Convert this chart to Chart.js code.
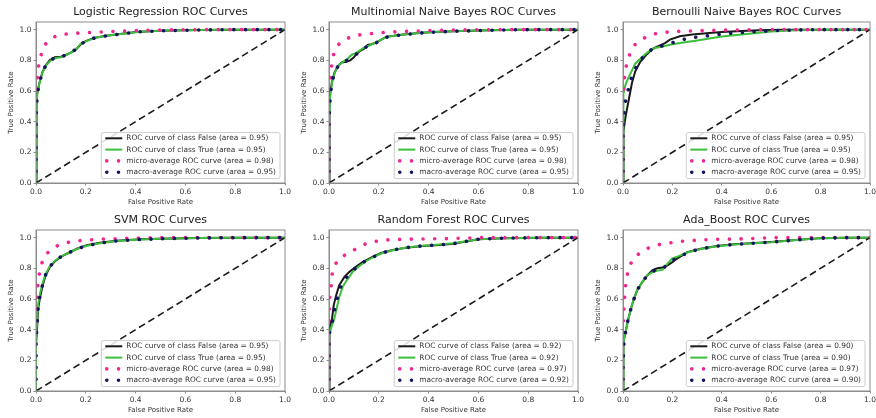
<!DOCTYPE html>
<html>
<head>
<meta charset="utf-8">
<script src="https://cdn.jsdelivr.net/npm/chart.js@4/dist/chart.umd.min.js"></script>
<style>
  html, body { margin: 0; padding: 0; background: #ffffff; }
  #board { position: relative; width: 876px; height: 418px; overflow: hidden; }
  #board canvas { position: absolute; }
</style>
</head>
<body>
<div id="board"></div>
<script>
// ROC curves per model, points are [false positive rate, true positive rate]
const modelTitles = [
  "Logistic Regression ROC Curves",
  "Multinomial Naive Bayes ROC Curves",
  "Bernoulli Naive Bayes ROC Curves",
  "SVM ROC Curves",
  "Random Forest ROC Curves",
  "Ada_Boost ROC Curves"
];

const areaFalse = [0.95, 0.95, 0.95, 0.95, 0.92, 0.90];
const areaTrue = [0.95, 0.95, 0.95, 0.95, 0.92, 0.90];
const areaMicro = [0.98, 0.98, 0.98, 0.98, 0.97, 0.97];
const areaMacro = [0.95, 0.95, 0.95, 0.95, 0.92, 0.90];

const tickValues = [0, 0.2, 0.4, 0.6, 0.8, 1.0];
const chanceLine = [[0, 0], [1, 1]];

const lrFalse = [[0,0],[0,0.42],[0.004,0.56],[0.012,0.64],[0.025,0.72],[0.04,0.77],[0.055,0.8],[0.075,0.82],[0.1,0.823],[0.12,0.835],[0.14,0.85],[0.16,0.87],[0.18,0.905],[0.2,0.925],[0.23,0.945],[0.27,0.957],[0.33,0.97],[0.4,0.985],[0.5,0.993],[0.6,0.997],[0.75,1],[1,1]];
const lrTrue = [[0,0],[0,0.45],[0.005,0.58],[0.013,0.65],[0.026,0.72],[0.042,0.77],[0.06,0.8],[0.08,0.815],[0.1,0.82],[0.125,0.838],[0.145,0.855],[0.165,0.88],[0.18,0.91],[0.21,0.93],[0.24,0.947],[0.28,0.96],[0.34,0.972],[0.42,0.987],[0.52,0.994],[0.65,0.998],[0.8,1],[1,1]];
const lrMicro = [[0,0],[0,0.5],[0.003,0.64],[0.009,0.75],[0.016,0.81],[0.027,0.87],[0.04,0.91],[0.059,0.94],[0.083,0.96],[0.11,0.97],[0.15,0.976],[0.2,0.98],[0.3,0.988],[0.4,0.994],[0.5,0.998],[0.65,1],[1,1]];
const lrMacro = [[0,0],[0,0.43],[0.005,0.57],[0.012,0.645],[0.025,0.72],[0.04,0.77],[0.057,0.8],[0.078,0.818],[0.1,0.822],[0.122,0.836],[0.142,0.852],[0.162,0.875],[0.18,0.907],[0.205,0.928],[0.235,0.946],[0.275,0.958],[0.335,0.971],[0.41,0.986],[0.51,0.993],[0.62,0.997],[0.78,1],[1,1]];

const mnbFalse = [[0,0],[0,0.4],[0.004,0.56],[0.012,0.66],[0.022,0.72],[0.035,0.76],[0.05,0.785],[0.07,0.79],[0.085,0.8],[0.1,0.82],[0.11,0.84],[0.125,0.862],[0.14,0.875],[0.155,0.9],[0.17,0.905],[0.19,0.915],[0.21,0.935],[0.23,0.953],[0.28,0.965],[0.35,0.977],[0.42,0.985],[0.5,0.99],[0.6,0.995],[0.75,1],[1,1]];
const mnbTrue = [[0,0],[0,0.42],[0.005,0.57],[0.013,0.66],[0.024,0.72],[0.037,0.765],[0.055,0.79],[0.075,0.81],[0.09,0.835],[0.105,0.845],[0.12,0.86],[0.14,0.882],[0.16,0.895],[0.18,0.91],[0.2,0.925],[0.215,0.94],[0.24,0.955],[0.29,0.966],[0.36,0.978],[0.44,0.986],[0.52,0.991],[0.63,0.996],[0.78,1],[1,1]];
const mnbMicro = [[0,0],[0,0.5],[0.002,0.57],[0.007,0.72],[0.014,0.81],[0.024,0.87],[0.042,0.91],[0.07,0.94],[0.1,0.96],[0.14,0.97],[0.19,0.978],[0.25,0.985],[0.33,0.99],[0.42,0.995],[0.52,0.998],[0.65,1],[1,1]];
const mnbMacro = [[0,0],[0,0.41],[0.005,0.565],[0.012,0.66],[0.023,0.72],[0.036,0.762],[0.052,0.787],[0.072,0.8],[0.088,0.818],[0.103,0.832],[0.118,0.85],[0.135,0.87],[0.15,0.888],[0.17,0.905],[0.19,0.915],[0.21,0.935],[0.235,0.953],[0.285,0.965],[0.355,0.977],[0.43,0.985],[0.51,0.99],[0.62,0.995],[0.77,1],[1,1]];

const bnbFalse = [[0,0],[0,0.21],[0.004,0.34],[0.01,0.43],[0.023,0.54],[0.036,0.65],[0.05,0.73],[0.07,0.79],[0.097,0.84],[0.12,0.875],[0.138,0.89],[0.17,0.912],[0.19,0.935],[0.23,0.957],[0.28,0.968],[0.35,0.978],[0.4,0.985],[0.48,0.992],[0.55,0.997],[0.65,1],[1,1]];
const bnbTrue = [[0,0],[0,0.5],[0.003,0.58],[0.01,0.64],[0.02,0.68],[0.035,0.73],[0.05,0.78],[0.07,0.81],[0.09,0.84],[0.11,0.865],[0.13,0.88],[0.16,0.89],[0.2,0.905],[0.25,0.918],[0.3,0.93],[0.35,0.942],[0.4,0.955],[0.5,0.972],[0.6,0.988],[0.7,0.997],[0.8,1],[1,1]];
const bnbMicro = [[0,0],[0,0.55],[0.003,0.64],[0.009,0.73],[0.018,0.8],[0.03,0.85],[0.047,0.9],[0.07,0.93],[0.097,0.955],[0.127,0.972],[0.16,0.982],[0.21,0.988],[0.3,0.993],[0.42,0.997],[0.55,1],[1,1]];
const bnbMacro = [[0,0],[0,0.35],[0.004,0.45],[0.01,0.53],[0.02,0.6],[0.033,0.68],[0.05,0.745],[0.07,0.8],[0.093,0.84],[0.115,0.87],[0.138,0.885],[0.17,0.9],[0.2,0.915],[0.24,0.935],[0.29,0.95],[0.35,0.962],[0.4,0.972],[0.5,0.984],[0.6,0.993],[0.7,0.998],[0.8,1],[1,1]];

const svmFalse = [[0,0],[0,0.3],[0.005,0.43],[0.009,0.54],[0.016,0.61],[0.027,0.69],[0.039,0.755],[0.056,0.81],[0.076,0.846],[0.103,0.878],[0.13,0.9],[0.164,0.928],[0.204,0.95],[0.257,0.967],[0.324,0.98],[0.418,0.989],[0.5,0.993],[0.65,0.998],[0.8,1],[1,1]];
const svmTrue = [[0,0],[0,0.35],[0.005,0.47],[0.009,0.57],[0.016,0.635],[0.027,0.705],[0.039,0.765],[0.056,0.815],[0.076,0.85],[0.103,0.88],[0.13,0.9],[0.164,0.926],[0.204,0.947],[0.257,0.964],[0.324,0.978],[0.418,0.988],[0.5,0.993],[0.65,0.998],[0.8,1],[1,1]];
const svmMicro = [[0,0],[0,0.45],[0.003,0.54],[0.005,0.65],[0.009,0.72],[0.016,0.79],[0.025,0.84],[0.039,0.885],[0.056,0.918],[0.076,0.94],[0.1,0.957],[0.123,0.967],[0.157,0.978],[0.19,0.982],[0.25,0.99],[0.35,0.995],[0.5,1],[1,1]];
const svmMacro = [[0,0],[0,0.32],[0.005,0.45],[0.009,0.555],[0.016,0.62],[0.027,0.697],[0.039,0.76],[0.056,0.812],[0.076,0.848],[0.103,0.879],[0.13,0.9],[0.164,0.927],[0.204,0.948],[0.257,0.965],[0.324,0.979],[0.418,0.988],[0.5,0.993],[0.65,0.998],[0.8,1],[1,1]];

const rfFalse = [[0,0],[0,0.36],[0.004,0.41],[0.012,0.47],[0.019,0.56],[0.028,0.62],[0.041,0.69],[0.062,0.744],[0.082,0.777],[0.108,0.81],[0.135,0.84],[0.169,0.87],[0.209,0.9],[0.256,0.92],[0.31,0.934],[0.376,0.946],[0.443,0.952],[0.5,0.96],[0.55,0.975],[0.6,0.99],[0.7,0.997],[0.85,1],[1,1]];
const rfTrue = [[0,0],[0,0.36],[0.008,0.41],[0.021,0.47],[0.031,0.54],[0.041,0.61],[0.055,0.68],[0.075,0.73],[0.095,0.777],[0.122,0.815],[0.15,0.848],[0.18,0.875],[0.215,0.9],[0.26,0.92],[0.31,0.936],[0.376,0.948],[0.443,0.955],[0.5,0.963],[0.55,0.977],[0.6,0.99],[0.7,0.997],[0.85,1],[1,1]];
const rfMicro = [[0,0],[0,0.45],[0.002,0.6],[0.009,0.69],[0.013,0.766],[0.023,0.82],[0.04,0.863],[0.063,0.885],[0.083,0.9],[0.1,0.92],[0.123,0.94],[0.15,0.962],[0.183,0.975],[0.217,0.984],[0.3,0.99],[0.45,0.993],[0.55,0.997],[0.6,1],[1,1]];
const rfMacro = [[0,0],[0,0.36],[0.006,0.41],[0.016,0.47],[0.025,0.55],[0.035,0.615],[0.048,0.685],[0.068,0.737],[0.088,0.777],[0.115,0.812],[0.142,0.844],[0.175,0.872],[0.212,0.9],[0.258,0.92],[0.31,0.935],[0.376,0.947],[0.443,0.953],[0.5,0.961],[0.55,0.976],[0.6,0.99],[0.7,0.997],[0.85,1],[1,1]];

const adaFalse = [[0,0],[0,0.15],[0.001,0.21],[0.004,0.32],[0.011,0.39],[0.02,0.46],[0.031,0.53],[0.042,0.59],[0.058,0.66],[0.078,0.71],[0.099,0.755],[0.119,0.787],[0.139,0.8],[0.16,0.805],[0.18,0.82],[0.2,0.84],[0.215,0.86],[0.235,0.88],[0.26,0.905],[0.315,0.928],[0.38,0.946],[0.45,0.957],[0.5,0.962],[0.6,0.972],[0.7,0.985],[0.8,0.997],[0.9,1],[1,1]];
const adaTrue = [[0,0],[0,0.15],[0.001,0.22],[0.004,0.32],[0.011,0.39],[0.02,0.46],[0.031,0.53],[0.042,0.59],[0.058,0.66],[0.078,0.71],[0.099,0.755],[0.119,0.775],[0.14,0.785],[0.16,0.79],[0.18,0.83],[0.2,0.865],[0.225,0.88],[0.26,0.903],[0.315,0.926],[0.38,0.944],[0.45,0.955],[0.5,0.96],[0.6,0.97],[0.7,0.984],[0.8,0.996],[0.9,1],[1,1]];
const adaMicro = [[0,0],[0,0.26],[0.001,0.43],[0.004,0.54],[0.007,0.62],[0.012,0.71],[0.02,0.78],[0.031,0.83],[0.047,0.875],[0.069,0.9],[0.092,0.924],[0.119,0.944],[0.153,0.957],[0.193,0.967],[0.247,0.978],[0.315,0.985],[0.38,0.989],[0.5,0.993],[0.6,1],[1,1]];
const adaMacro = [[0,0],[0,0.15],[0.001,0.215],[0.004,0.32],[0.011,0.39],[0.02,0.46],[0.031,0.53],[0.042,0.59],[0.058,0.66],[0.078,0.71],[0.099,0.755],[0.119,0.781],[0.14,0.793],[0.16,0.798],[0.18,0.825],[0.2,0.852],[0.22,0.868],[0.245,0.888],[0.26,0.904],[0.315,0.927],[0.38,0.945],[0.45,0.956],[0.5,0.961],[0.6,0.971],[0.7,0.985],[0.8,0.997],[0.9,1],[1,1]];

const curvesFalse = [lrFalse, mnbFalse, bnbFalse, svmFalse, rfFalse, adaFalse];
const curvesTrue = [lrTrue, mnbTrue, bnbTrue, svmTrue, rfTrue, adaTrue];
const curvesMicro = [lrMicro, mnbMicro, bnbMicro, svmMicro, rfMicro, adaMicro];
const curvesMacro = [lrMacro, mnbMacro, bnbMacro, svmMacro, rfMacro, adaMacro];

// grid of plot areas (left edge per column, top edge per row)
const COLUMN_LEFT = [36, 329, 623];
const COLUMN_WIDTH = [249, 249, 247];
const ROW_TOP = [22, 230];
const PLOT_HEIGHT = 161;
const AXIS_LEFT = 36;
const AXIS_BOTTOM = 28;
const TITLE_SPACE = 22;
const RIGHT_PAD = 10;

const FONT = "'DejaVu Sans', sans-serif";
const TEXT = "#333333";
const FRAME = "#8c8c8c";
const DOTS = [0.01, 11.7];

Chart.defaults.font.family = FONT;

const board = document.getElementById("board");

const toPoints = (pairs) => pairs.map(([x, y]) => ({ x, y }));

// frame on all four sides plus the lower-right legend drawn inside the plot
const frameAndLegend = {
  id: "frameAndLegend",
  afterDatasetsDraw(chart) {
    const { ctx, chartArea: a } = chart;
    ctx.save();
    ctx.strokeStyle = FRAME;
    ctx.lineWidth = 1;
    ctx.setLineDash([]);
    ctx.strokeRect(a.left, a.top, a.right - a.left, a.bottom - a.top);

    const items = chart.data.datasets.filter((d) => d.label);
    ctx.font = `7.4px ${FONT}`;
    const textW = Math.max(...items.map((d) => ctx.measureText(d.label).width));
    const w = 25 + textW + 4;
    const h = 46;
    const x = a.right - 5 - w;
    const y = a.bottom - 4.4 - h;

    ctx.fillStyle = "rgba(255, 255, 255, 0.85)";
    ctx.strokeStyle = "#cccccc";
    ctx.beginPath();
    if (ctx.roundRect) ctx.roundRect(x, y, w, h, 2);
    else ctx.rect(x, y, w, h);
    ctx.fill();
    ctx.stroke();

    items.forEach((d, i) => {
      const cy = y + 5.7 + i * 11.3;
      const dotted = Boolean(d.borderDash);
      ctx.beginPath();
      ctx.setLineDash(dotted ? d.borderDash : []);
      ctx.lineWidth = d.borderWidth;
      ctx.strokeStyle = d.borderColor;
      ctx.lineCap = dotted ? "round" : "butt";
      ctx.moveTo(x + (dotted ? 5.5 : 4), cy);
      ctx.lineTo(x + 21, cy);
      ctx.stroke();
      ctx.setLineDash([]);
      ctx.fillStyle = TEXT;
      ctx.textBaseline = "middle";
      ctx.textAlign = "left";
      ctx.fillText(d.label, x + 25, cy);
    });
    ctx.restore();
  }
};

const buildDatasets = (i) => [
  {
    label: `ROC curve of class False (area = ${areaFalse[i].toFixed(2)})`,
    data: toPoints(curvesFalse[i]),
    borderColor: "#1a1a1a",
    borderWidth: 2,
    order: 5
  },
  {
    label: `ROC curve of class True (area = ${areaTrue[i].toFixed(2)})`,
    data: toPoints(curvesTrue[i]),
    borderColor: "#3cbf3c",
    borderWidth: 2,
    order: 4
  },
  {
    label: `micro-average ROC curve (area = ${areaMicro[i].toFixed(2)})`,
    data: toPoints(curvesMicro[i]),
    borderColor: "#f0278c",
    borderWidth: 3.6,
    borderDash: DOTS,
    borderCapStyle: "round",
    order: 3
  },
  {
    label: `macro-average ROC curve (area = ${areaMacro[i].toFixed(2)})`,
    data: toPoints(curvesMacro[i]),
    borderColor: "#14145e",
    borderWidth: 3.6,
    borderDash: DOTS,
    borderCapStyle: "round",
    order: 2
  },
  {
    label: "",
    data: toPoints(chanceLine),
    borderColor: "#1a1a1a",
    borderWidth: 1.6,
    borderDash: [7, 4],
    order: 1
  }
];

const axisTicks = (scale) => {
  scale.ticks = tickValues.map((value) => ({ value }));
};

const buildConfig = (i) => ({
  type: "line",
  data: { datasets: buildDatasets(i) },
  options: {
    responsive: false,
    animation: false,
    elements: { point: { radius: 0 }, line: { tension: 0, fill: false } },
    layout: { padding: { left: 0, top: 0, right: RIGHT_PAD, bottom: 0 } },
    plugins: {
      legend: { display: false },
      tooltip: { enabled: false },
      title: {
        display: true,
        fullSize: false,
        text: modelTitles[i],
        color: "#222222",
        font: { size: 11, weight: "normal" },
        padding: { top: 5.8, bottom: 3 }
      }
    },
    scales: {
      x: {
        type: "linear",
        min: 0,
        max: 1,
        afterBuildTicks: axisTicks,
        afterFit: (scale) => { scale.height = AXIS_BOTTOM; },
        ticks: { callback: (v) => v.toFixed(1), color: TEXT, font: { size: 7.5 }, padding: 1.6, maxRotation: 0, autoSkip: false },
        grid: { drawOnChartArea: false, tickLength: 2.5, color: FRAME },
        border: { color: FRAME },
        title: { display: true, text: "False Positive Rate", color: TEXT, font: { size: 7 }, padding: { top: 0, bottom: 4.8 } }
      },
      y: {
        type: "linear",
        min: 0,
        max: 1.05,
        afterBuildTicks: axisTicks,
        afterFit: (scale) => { scale.width = AXIS_LEFT; },
        ticks: { callback: (v) => v.toFixed(1), color: TEXT, font: { size: 7.5 }, padding: 2, autoSkip: false },
        grid: { drawOnChartArea: false, tickLength: 2.5, color: FRAME },
        border: { color: FRAME },
        title: { display: true, text: "True Positive Rate", color: TEXT, font: { size: 7 }, padding: { top: 6.8, bottom: 0 } }
      }
    }
  },
  plugins: [frameAndLegend]
});

modelTitles.forEach((_, i) => {
  const col = i % 3;
  const row = Math.floor(i / 3);
  const canvas = document.createElement("canvas");
  canvas.width = AXIS_LEFT + COLUMN_WIDTH[col] + RIGHT_PAD;
  canvas.height = TITLE_SPACE + PLOT_HEIGHT + AXIS_BOTTOM;
  canvas.style.left = `${COLUMN_LEFT[col] - AXIS_LEFT}px`;
  canvas.style.top = `${ROW_TOP[row] - TITLE_SPACE}px`;
  board.appendChild(canvas);
  new Chart(canvas.getContext("2d"), buildConfig(i));
});
</script>
</body>
</html>
